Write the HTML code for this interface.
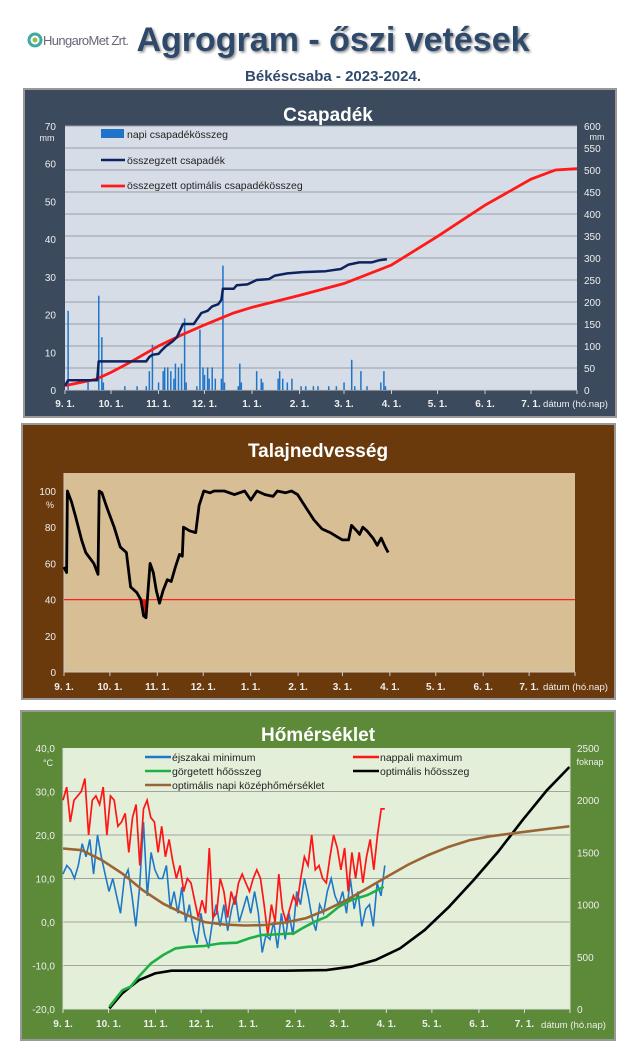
<!DOCTYPE html>
<html><head><meta charset="utf-8"><style>
html,body{margin:0;padding:0;background:#fff;width:640px;height:1060px;overflow:hidden}
svg{display:block;font-family:"Liberation Sans",sans-serif}
</style></head><body>
<svg id="s" width="640" height="1060" viewBox="0 0 640 1060">
<defs>
<filter id="sh" x="-5%" y="-5%" width="110%" height="110%"><feDropShadow dx="1.5" dy="1.5" stdDeviation="1.2" flood-color="#000" flood-opacity="0.45"/></filter>
<clipPath id="below40"><rect x="64" y="600" width="511" height="72"/></clipPath>
</defs>
<g>
<circle cx="35" cy="40" r="6" fill="none" stroke="#3fa9a0" stroke-width="3"/>
<circle cx="35" cy="40" r="2.5" fill="#8bc34a"/>
<text x="43" y="45" font-size="13" fill="#667" textLength="86">HungaroMet Zrt.</text>
</g>
<text x="333" y="51" text-anchor="middle" font-size="34" font-weight="bold" fill="#2f4a6a" filter="url(#sh)">Agrogram - őszi vetések</text>
<text x="333" y="81" text-anchor="middle" font-size="15" font-weight="bold" fill="#2f4a6a">Békéscsaba  - 2023-2024.</text>
<g id="p1"></g>
<g id="p2"></g>
<g id="p3"></g>
</svg>
<script>
// ---- shared axis data ----
const monthDays=[0,30,61,91,122,153,182,213,243,274,304];
const monthLabels=["9. 1.","10. 1.","11. 1.","12. 1.","1. 1.","2. 1.","3. 1.","4. 1.","5. 1.","6. 1.","7. 1."];
// ---- precipitation ----
const rainDays=[2,15,22,24,25,39,47,53,55,57,61,64,65,67,69,71,72,74,76,78,79,86,88,90,91,93,94,96,98,102,103,104,113,114,115,125,128,129,139,140,142,145,148,154,157,162,165,172,177,182,187,189,193,197,206,208,209];
const rainVals=[21,2,25,14,2,1,1,1,5,12,2,5,6,6,5,3,7,6,7,19,2,1,16,6,4,6,3,6,3,3,33,2,1,7,2,5,3,2,3,5,3,2,3,1,1,1,1,1,1,2,8,1,5,1,2,5,1];
const cumDays=[0,2,21,22,53,55,57,61,63,66,70,73,77,84,86,89,93,96,100,102,103,110,112,119,122,125,133,137,145,155,170,180,185,192,200,205,210];
const cumVals=[10,22,22,65,65,75,80,82,90,100,110,120,150,150,160,175,180,190,195,205,230,230,238,240,245,250,252,260,265,268,270,275,285,290,290,295,297];
const optDays=[0,20,30,42,61,76,91,110,122,153,182,213,243,274,304,320,334];
const optVals=[10,24,40,62,100,125,148,175,188,215,242,284,349,420,479,500,503];
const p1LeftTicks=[0,10,20,30,40,50,60,70];
const p1RightTicks=[0,50,100,150,200,250,300,350,400,450,500,550,600];
// ---- soil moisture ----
const soilDays=[0,1.7,2.2,4.9,7.5,11.5,14.2,19.5,22.2,23,24.8,28,32.8,36.8,40.8,43.5,47.5,50.2,52,53.6,56.3,58.4,60.3,62.4,64.8,67.5,70.1,72.8,75.5,77.3,78.1,82.1,86.1,88.3,91.4,95.4,98.1,104.8,111.4,118.1,122.1,126.1,131.4,136.7,139.4,144.7,148.7,152.7,158,163.4,168.7,174,178,182,186,187.9,191.3,193.2,195.3,198,202,204.7,207.3,210,211.9];
const soilVals=[58,55,100,94,86,73,66,60,54,100,99,91,80,69,66,47,44,40,31,30,60,55,45,38,45,51,50,58,65,64,80,78,77,92,100,99,100,100,98,100,95,100,98,97,100,99,100,98,91,84,79,77,75,73,73,81,78,76,80,78,74,70,74,69,66];
const soilTicks=[0,20,40,60,80,100];
const soilThreshold=40;
// ---- temperature ----
const tmaxVals=[28,31,23,28,29,30,33,20,28,29,27,31,20,29,28,22,23,25,16,24,27,13,26,28,24,23,16,22,15,19,14,10,13,7,10,9,5,1,5,2,17,1,2,10,7,1,7,4,9,11,9,7,10,12,10,4,-3,4,0,11,3,0,3,6,4,10,15,13,20,12,13,10,9,15,20,17,12,17,7,16,10,16,9,15,19,12,20,26,26];
const tminVals=[11,13,12,10,13,18,15,19,11,20,15,11,7,10,6,2,10,12,6,-1,8,23,6,16,12,10,10,13,3,7,2,8,0,4,-2,-5,2,-3,-6,0,4,-1,4,-2,3,6,0,3,6,2,7,2,-7,-3,-4,0,-6,2,-4,2,-3,7,4,10,6,1,-2,4,2,7,10,6,4,7,2,10,3,7,-1,3,4,-1,9,6,13];
const tEndDay=212;
const gddDays=[30.6,39.2,44.5,49.9,58,66,74.1,82.2,92.9,103.7,114.5,122.5,130.6,138.7,152.1,157.5,165.6,173.6,181.7,189.8,200.5,211.3];
const gddVals=[22,180,214,309,437,517,580,596,603,628,635,676,708,714,724,772,835,883,979,1043,1091,1170];
const optGddDays=[30.6,39,50,60.7,71.4,84.9,119.8,146.7,173.6,189.8,205.9,222,238.2,254.3,270.4,286.6,302.7,318.8,333.6];
const optGddVals=[6,150,277,341,367,367,367,367,373,405,469,580,756,979,1234,1505,1808,2095,2318];
const optTDays=[0,12.3,25.7,39.2,52.6,66,79.5,93,106.4,119.8,133.3,146.7,160.2,173.6,187.1,200.5,214,227.4,240.8,254.3,267.7,281.2,294.6,308.1,321.5,333.6];
const optTVals=[16.9,16.5,14.2,11.1,7.3,4.2,1.9,0,-0.6,-0.8,-0.7,-0.1,0.9,2.8,5.1,7.8,10.5,13.2,15.4,17.3,18.8,19.7,20.3,20.9,21.5,22];
const tLeftTicks=[-20,-10,0,10,20,30,40];
const tLeftLabels=["-20,0","-10,0","0,0","10,0","20,0","30,0","40,0"];
const tRightTicks=[0,500,1000,1500,2000,2500];

const NS="http://www.w3.org/2000/svg";
function mk(parent,tag,attrs,text){const e=document.createElementNS(NS,tag);for(const k in attrs)e.setAttribute(k,attrs[k]);if(text!==undefined)e.textContent=text;parent.appendChild(e);return e;}
function pts(ds,vs,fx,fy){return ds.map((d,i)=>fx(d).toFixed(1)+","+fy(vs[i]).toFixed(1)).join(" ");}

// ========== PANEL 1 ==========
(function(){
const g=document.getElementById('p1');
const X=d=>65+d*(512/334), YL=v=>390-v*(264/70), YR=v=>390-v*(264/600);
let e=mk(g,'rect',{x:24,y:89,width:592,height:328,fill:'#3b4a5d',stroke:'#999','stroke-width':2});

e=mk(g,'text',{x:328,y:121,'text-anchor':'middle','font-size':19,'font-weight':'bold',fill:'#fff'},'Csapadék');

e=mk(g,'rect',{x:65,y:126,width:512,height:264,fill:'#d7dde6'});

p1RightTicks.forEach(v=>{const l=mk(g,'line',{x1:65,x2:577,y1:YR(v),y2:YR(v),stroke:'#9aa0a8','stroke-width':1});

const t=mk(g,'text',{x:584,y:YR(v)+4,'font-size':10,fill:'#eee'},String(v));
});
p1LeftTicks.forEach(v=>{const t=mk(g,'text',{x:56,y:YL(v)+4,'text-anchor':'end','font-size':10,fill:'#eee'},String(v));
});
e=mk(g,'text',{x:47,y:141,'text-anchor':'middle','font-size':9,fill:'#eee'},'mm');
e=mk(g,'text',{x:597,y:140,'text-anchor':'middle','font-size':9,fill:'#eee'},'mm');
mk(g,'line',{x1:65,x2:577,y1:390,y2:390,stroke:'#ccc'});
monthDays.concat([334]).forEach(d=>mk(g,'line',{x1:X(d),x2:X(d),y1:390,y2:394,stroke:'#ccc'}));
monthDays.forEach((d,i)=>{const t=mk(g,'text',{x:X(d),y:407,'text-anchor':'middle','font-size':10,'font-weight':'bold',fill:'#eee'},monthLabels[i]);
});
e=mk(g,'text',{x:543,y:407,'font-size':9.5,fill:'#eee',textLength:65,lengthAdjust:'spacingAndGlyphs'},'dátum (hó.nap)');
rainDays.forEach((d,i)=>{const b=mk(g,'rect',{x:X(d)-0.7,y:YL(rainVals[i]),width:1.5,height:390-YL(rainVals[i]),fill:'#1f74c8'});
});
e=mk(g,'polyline',{points:pts(optDays,optVals,X,YR),fill:'none',stroke:'#ff1a1a','stroke-width':2.8});

e=mk(g,'polyline',{points:pts(cumDays,cumVals,X,YR),fill:'none',stroke:'#0d2360','stroke-width':2.5,'stroke-linejoin':'round'});

// legend
e=mk(g,'rect',{x:101,y:129,width:23,height:9,fill:'#1f74c8'});
e=mk(g,'text',{x:127,y:138,'font-size':10.5,fill:'#222'},'napi csapadékösszeg');
e=mk(g,'line',{x1:101,x2:125,y1:160,y2:160,stroke:'#0d2360','stroke-width':2.5});
e=mk(g,'text',{x:127,y:164,'font-size':10.5,fill:'#222'},'összegzett csapadék');
e=mk(g,'line',{x1:101,x2:125,y1:186,y2:186,stroke:'#ff1a1a','stroke-width':2.8});
e=mk(g,'text',{x:127,y:189,'font-size':10.5,fill:'#222'},'összegzett optimális csapadékösszeg');
})();

// ========== PANEL 2 ==========
(function(){
const g=document.getElementById('p2');
const X=d=>64+d*(511/334), Y=v=>672-v*1.81;
let e=mk(g,'rect',{x:22,y:424,width:593,height:275,fill:'#6b3a0c',stroke:'#999','stroke-width':2});

e=mk(g,'text',{x:318,y:457,'text-anchor':'middle','font-size':19,'font-weight':'bold',fill:'#fff'},'Talajnedvesség');

e=mk(g,'rect',{x:64,y:473,width:511,height:199,fill:'#d8be95'});

soilTicks.forEach(v=>{const t=mk(g,'text',{x:56,y:Y(v)+4,'text-anchor':'end','font-size':10,fill:'#eee'},String(v));
});
e=mk(g,'text',{x:50,y:508,'text-anchor':'middle','font-size':9,fill:'#eee'},'%');
mk(g,'line',{x1:64,x2:64,y1:473,y2:672,stroke:'#ccc'});
mk(g,'line',{x1:64,x2:575,y1:672,y2:672,stroke:'#ccc'});
monthDays.concat([334]).forEach(d=>mk(g,'line',{x1:X(d),x2:X(d),y1:672,y2:676,stroke:'#ccc'}));
monthDays.forEach((d,i)=>{const t=mk(g,'text',{x:X(d),y:690,'text-anchor':'middle','font-size':10,'font-weight':'bold',fill:'#eee'},monthLabels[i]);
});
e=mk(g,'text',{x:543,y:690,'font-size':9.5,fill:'#eee',textLength:65,lengthAdjust:'spacingAndGlyphs'},'dátum (hó.nap)');
const n=soilDays.length;
let area=pts(soilDays,soilVals,X,Y)+" "+X(soilDays[n-1]).toFixed(1)+","+Y(soilThreshold)+" "+X(soilDays[0]).toFixed(1)+","+Y(soilThreshold);
document.getElementById('below40').firstChild.setAttribute('y',Y(soilThreshold));
e=mk(g,'polygon',{points:area,fill:'#ee1111','clip-path':'url(#below40)'});

e=mk(g,'line',{x1:64,x2:575,y1:Y(soilThreshold),y2:Y(soilThreshold),stroke:'#ff2020','stroke-width':1.2});

e=mk(g,'polyline',{points:pts(soilDays,soilVals,X,Y),fill:'none',stroke:'#000','stroke-width':2.8,'stroke-linejoin':'round'});

})();

// ========== PANEL 3 ==========
(function(){
const g=document.getElementById('p3');
const X=d=>63+d*(507/334), YT=v=>1009-(v+20)*(261/60), YR=v=>1009-v*(261/2500);
let e=mk(g,'rect',{x:21,y:711,width:594,height:329,fill:'#5c8a38',stroke:'#999','stroke-width':2});

e=mk(g,'text',{x:318,y:741,'text-anchor':'middle','font-size':19,'font-weight':'bold',fill:'#fff'},'Hőmérséklet');

e=mk(g,'rect',{x:63,y:748,width:507,height:261,fill:'#e4efda'});

tLeftTicks.forEach((v,i)=>{if(v>-20&&v<40){const l=mk(g,'line',{x1:63,x2:570,y1:YT(v),y2:YT(v),stroke:'#a0a4a0','stroke-width':1});
}
const t=mk(g,'text',{x:55,y:YT(v)+4,'text-anchor':'end','font-size':10,fill:'#eee'},tLeftLabels[i]);
});
tRightTicks.forEach(v=>{const t=mk(g,'text',{x:577,y:YR(v)+4,'font-size':10,fill:'#eee'},String(v));
});
e=mk(g,'text',{x:48,y:766,'text-anchor':'middle','font-size':9,fill:'#eee'},'°C');
e=mk(g,'text',{x:590,y:765,'text-anchor':'middle','font-size':9,fill:'#eee'},'foknap');
mk(g,'line',{x1:63,x2:63,y1:748,y2:1009,stroke:'#ddd'});
mk(g,'line',{x1:570,x2:570,y1:748,y2:1009,stroke:'#ddd'});
mk(g,'line',{x1:63,x2:570,y1:1009,y2:1009,stroke:'#ddd'});
monthDays.concat([334]).forEach(d=>mk(g,'line',{x1:X(d),x2:X(d),y1:1009,y2:1013,stroke:'#ddd'}));
monthDays.forEach((d,i)=>{const t=mk(g,'text',{x:X(d),y:1027,'text-anchor':'middle','font-size':10,'font-weight':'bold',fill:'#eee'},monthLabels[i]);
});
e=mk(g,'text',{x:541,y:1028,'font-size':9.5,fill:'#eee',textLength:65,lengthAdjust:'spacingAndGlyphs'},'dátum (hó.nap)');
const stepMax=tEndDay/(tmaxVals.length-1), stepMin=tEndDay/(tminVals.length-1);
const maxDays=tmaxVals.map((v,i)=>i*stepMax), minDays=tminVals.map((v,i)=>i*stepMin);
e=mk(g,'polyline',{points:pts(minDays,tminVals,X,YT),fill:'none',stroke:'#1e78c8','stroke-width':1.6});

e=mk(g,'polyline',{points:pts(maxDays,tmaxVals,X,YT),fill:'none',stroke:'#ff1515','stroke-width':1.7});

e=mk(g,'polyline',{points:pts(optGddDays,optGddVals,X,YR),fill:'none',stroke:'#000','stroke-width':2.6});

e=mk(g,'polyline',{points:pts(gddDays,gddVals,X,YR),fill:'none',stroke:'#1db045','stroke-width':2.6});

e=mk(g,'polyline',{points:pts(optTDays,optTVals,X,YT),fill:'none',stroke:'#9a6535','stroke-width':2.6});

const L=[[145,757,'#1e78c8','éjszakai minimum','legend-night-min'],[353,757,'#ff1515','nappali maximum','legend-day-max'],
[145,771,'#1db045','görgetett hőösszeg','legend-rolling-heat-sum'],[353,771,'#000','optimális hőösszeg','legend-optimal-heat-sum'],
[145,785,'#9a6535','optimális napi középhőmérséklet','legend-optimal-mean-temp']];
L.forEach(r=>{const l=mk(g,'line',{x1:r[0],x2:r[0]+26,y1:r[1],y2:r[1],stroke:r[2],'stroke-width':2.5});

const t=mk(g,'text',{x:r[0]+27,y:r[1]+4,'font-size':10.5,fill:'#222'},r[3]);
});
})();
</script>
</body></html>
